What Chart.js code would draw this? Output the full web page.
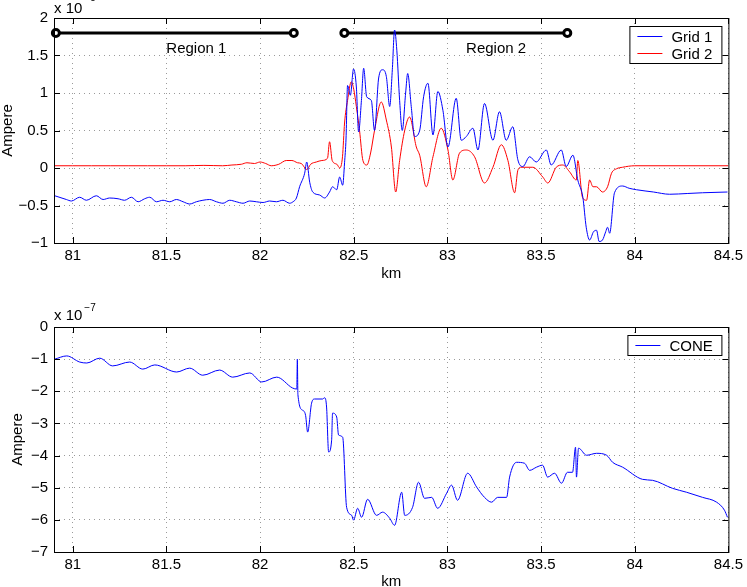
<!DOCTYPE html>
<html>
<head>
<meta charset="utf-8">
<script src="https://cdn.jsdelivr.net/npm/chart.js@4.4.0/dist/chart.umd.min.js"></script>
<style>
html, body { margin: 0; padding: 0; background: #fff; overflow: hidden; }
#wrap { position: relative; width: 747px; height: 587px; overflow: hidden; }
canvas { position: absolute; left: 0; }
#grids { top: 0; }
#cone { top: 293px; }
</style>
</head>
<body>
<div id="wrap">
<canvas id="grids" width="747" height="293"></canvas>
<canvas id="cone" width="747" height="310"></canvas>
</div>
<script>
const xTicks = [81, 81.5, 82, 82.5, 83, 83.5, 84, 84.5];
const gridTicks = [-1, -0.5, 0, 0.5, 1, 1.5, 2];
const coneTicks = [-7, -6, -5, -4, -3, -2, -1, 0];

// Grid 1 (x 10^-5 A)
const grid1Km = [
    80.904, 80.966, 80.993, 81.037, 81.073, 81.126, 81.162, 81.197, 81.242, 81.277,
    81.313, 81.349, 81.384, 81.411, 81.447, 81.482, 81.518, 81.553, 81.589, 81.624,
    81.660, 81.695, 81.731, 81.767, 81.802, 81.838, 81.873, 81.909, 81.945, 81.980,
    82.016, 82.051, 82.087, 82.122, 82.158, 82.176, 82.194, 82.211, 82.238, 82.249,
    82.265, 82.281, 82.318, 82.345, 82.371, 82.387, 82.409, 82.425, 82.441, 82.451,
    82.459, 82.467, 82.482, 82.499, 82.514, 82.526, 82.541, 82.553, 82.569, 82.594,
    82.611, 82.633, 82.654, 82.674, 82.692, 82.706, 82.718, 82.730, 82.745, 82.759,
    82.777, 82.788, 82.807, 82.825, 82.852, 82.873, 82.896, 82.923, 82.949, 82.976,
    83.003, 83.047, 83.074, 83.101, 83.136, 83.163, 83.198, 83.243, 83.278, 83.314,
    83.349, 83.376, 83.403, 83.439, 83.474, 83.528, 83.554, 83.608, 83.634, 83.670,
    83.696, 83.723, 83.741, 83.759, 83.780, 83.796, 83.810, 83.828, 83.845, 83.855,
    83.866, 83.892, 83.935, 83.970, 84.010, 84.100, 84.186, 84.280, 84.362, 84.495
];
const grid1Amp = [
    -0.37, -0.42, -0.44, -0.39, -0.43, -0.37, -0.42, -0.40, -0.41, -0.43,
    -0.39, -0.45, -0.41, -0.39, -0.45, -0.43, -0.45, -0.42, -0.45, -0.48,
    -0.45, -0.43, -0.42, -0.45, -0.47, -0.43, -0.45, -0.47, -0.44, -0.45,
    -0.46, -0.44, -0.45, -0.43, -0.47, -0.45, -0.40, -0.25, -0.07, 0.08,
    -0.19, -0.32, -0.36, -0.40, -0.32, -0.25, -0.29, -0.12, -0.23, 0.07,
    0.40, 1.10, 0.97, 1.32, 1.08, 0.48, 0.90, 1.33, 0.95, 0.90,
    0.50, 1.20, 1.31, 1.22, 0.82, 1.31, 1.84, 1.57, 0.90, 0.50,
    1.00, 1.26, 0.82, 0.42, 0.50, 0.95, 1.13, 0.44, 1.02, 0.77,
    0.28, 0.93, 0.37, 0.42, 0.53, 0.24, 0.86, 0.37, 0.75, 0.37,
    0.55, 0.11, 0.02, 0.15, 0.08, 0.24, 0.04, 0.24, 0.02, 0.17,
    -0.16, -0.39, -0.79, -0.96, -0.85, -0.83, -0.98, -0.96, -0.85, -0.79,
    -0.87, -0.33, -0.24, -0.27, -0.29, -0.32, -0.35, -0.34, -0.33, -0.32
];

// Grid 2 (x 10^-5 A)
const grid2Km = [
    80.90, 81.00, 81.10, 81.20, 81.30, 81.40, 81.50, 81.60, 81.70, 81.80,
    81.85, 81.90, 81.93, 81.97, 82.00, 82.03, 82.06, 82.10, 82.14, 82.17,
    82.20, 82.22, 82.25, 82.27, 82.30, 82.33, 82.36, 82.371, 82.385, 82.41,
    82.425, 82.44, 82.451, 82.467, 82.487, 82.500, 82.514, 82.531, 82.549, 82.570,
    82.590, 82.611, 82.647, 82.674, 82.701, 82.724, 82.745, 82.772, 82.798, 82.834,
    82.852, 82.887, 82.923, 82.967, 83.003, 83.029, 83.065, 83.101, 83.145, 83.198,
    83.243, 83.288, 83.323, 83.359, 83.376, 83.393, 83.456, 83.509, 83.536, 83.581,
    83.616, 83.652, 83.688, 83.696, 83.721, 83.743, 83.759, 83.777, 83.796, 83.828,
    83.855, 83.876, 83.903, 83.935, 84.00, 84.50
];
const grid2Amp = [
    0.03, 0.03, 0.03, 0.03, 0.03, 0.03, 0.03, 0.03, 0.035, 0.03,
    0.04, 0.05, 0.07, 0.06, 0.08, 0.06, 0.03, 0.05, 0.10, 0.10,
    0.07, 0.06, -0.02, 0.05, 0.08, 0.10, 0.13, 0.35, 0.10, 0.05,
    0.00, 0.15, 0.60, 0.90, 1.15, 1.05, 0.82, 0.50, 0.10, 0.04,
    0.20, 0.50, 0.88, 0.64, 0.28, -0.32, 0.10, 0.50, 0.68, 0.28,
    0.17, -0.25, 0.15, 0.53, 0.24, -0.16, 0.20, 0.24, 0.15, -0.20,
    0.01, 0.31, 0.10, -0.33, -0.03, 0.01, 0.01, -0.12, -0.20, 0.01,
    0.04, -0.05, -0.16, 0.10, -0.39, -0.43, -0.16, -0.25, -0.25, -0.32,
    -0.25, -0.07, -0.01, 0.01, 0.03, 0.03
];

// CONE (x 10^-7 A)
const coneKm = [
    80.904, 80.968, 81.037, 81.075, 81.144, 81.213, 81.304, 81.374, 81.438, 81.555,
    81.624, 81.694, 81.784, 81.854, 81.945, 82.009, 82.089, 82.174, 82.196, 82.199,
    82.202, 82.227, 82.243, 82.254, 82.275, 82.291, 82.334, 82.345, 82.355, 82.366,
    82.382, 82.387, 82.409, 82.419, 82.441, 82.462, 82.489, 82.499, 82.521, 82.542,
    82.574, 82.622, 82.654, 82.692, 82.718, 82.756, 82.772, 82.814, 82.846, 82.878,
    82.916, 82.948, 82.996, 83.022, 83.054, 83.108, 83.156, 83.198, 83.236, 83.268,
    83.316, 83.332, 83.369, 83.412, 83.439, 83.476, 83.508, 83.535, 83.572, 83.609,
    83.641, 83.668, 83.684, 83.689, 83.700, 83.743, 83.796, 83.850, 83.882, 83.935,
    84.042, 84.095, 84.202, 84.276, 84.362, 84.437, 84.479, 84.495
];
const coneAmp = [
    -1.00, -0.90, -1.09, -1.12, -0.97, -1.21, -1.09, -1.31, -1.18, -1.40,
    -1.28, -1.50, -1.34, -1.56, -1.43, -1.71, -1.56, -1.90, -1.93, -1.00,
    -2.10, -2.59, -2.75, -3.27, -2.37, -2.24, -2.24, -2.20, -2.49, -3.89,
    -3.52, -2.68, -2.80, -3.36, -3.43, -5.61, -5.86, -6.01, -5.64, -5.92,
    -5.36, -5.86, -5.76, -5.95, -6.17, -5.14, -5.86, -5.61, -4.83, -5.33,
    -5.30, -5.64, -5.17, -4.92, -5.39, -4.55, -4.98, -5.30, -5.45, -5.30,
    -5.30, -4.67, -4.21, -4.24, -4.46, -4.36, -4.30, -4.67, -4.55, -4.86,
    -4.52, -4.52, -3.74, -4.67, -3.77, -3.99, -3.93, -3.99, -4.21, -4.36,
    -4.74, -4.77, -5.02, -5.14, -5.30, -5.45, -5.70, -5.92
];

const regionNames = ['Region 1', 'Region 2'];
const regionStart = [80.91, 82.45];
const regionEnd = [82.18, 83.64];
const regionLevel = 1.8;
const regionLabelKm = [81.66, 83.26];
const regionLabelAmp = 1.53;

const FONT = '"Liberation Sans", Arial, Helvetica, sans-serif';
Chart.defaults.font.family = FONT;
Chart.defaults.font.size = 15;
Chart.defaults.color = '#000';

const pts = (xs, ys) => xs.map((x, i) => ({x: x, y: ys[i]}));
const minus = v => String(v).replace('-', '\u2212');

// box, inward ticks, multiplier, legend, region labels
const matlabFrame = {
    id: 'matlabFrame',
    afterDraw(chart, args, opts) {
        const ctx = chart.ctx;
        const a = chart.chartArea;
        const sx = chart.scales.x, sy = chart.scales.y;
        ctx.save();
        ctx.strokeStyle = '#000';
        ctx.lineWidth = 1;
        ctx.beginPath();
        sx.ticks.forEach(t => {
            const p = Math.round(sx.getPixelForValue(t.value)) + 0.5;
            ctx.moveTo(p, a.bottom); ctx.lineTo(p, a.bottom - 6);
            ctx.moveTo(p, a.top); ctx.lineTo(p, a.top + 6);
        });
        sy.ticks.forEach(t => {
            const p = Math.round(sy.getPixelForValue(t.value)) + 0.5;
            ctx.moveTo(a.left, p); ctx.lineTo(a.left + 6, p);
            ctx.moveTo(a.right, p); ctx.lineTo(a.right - 6, p);
        });
        ctx.stroke();
        ctx.strokeRect(a.left + 0.5, a.top + 0.5, a.right - a.left, a.bottom - a.top);

        // multiplier
        ctx.fillStyle = '#000';
        ctx.textBaseline = 'alphabetic';
        ctx.textAlign = 'left';
        ctx.font = '15px ' + FONT;
        const by = a.top + opts.multY;
        ctx.fillText('x 10', a.left, by);
        const w = ctx.measureText('x 10').width;
        ctx.font = '10px ' + FONT;
        ctx.fillText(opts.exponent, a.left + w + 2, by - opts.expRise);

        // region labels
        if (opts.regions) {
            ctx.font = '15px ' + FONT;
            ctx.textAlign = 'center';
            regionNames.forEach((n, i) => {
                ctx.fillText(n, sx.getPixelForValue(regionLabelKm[i]), sy.getPixelForValue(regionLabelAmp));
            });
        }

        // legend
        const items = chart.data.datasets.filter(d => d.inLegend);
        ctx.font = '15px ' + FONT;
        ctx.textAlign = 'left';
        const tw = Math.max(...items.map(d => ctx.measureText(d.label).width));
        const bw = Math.round(42 + tw + 9);
        const bh = 17 * items.length + 3;
        const bx = a.right - 7 - bw;
        const byy = a.top + 8;
        ctx.fillStyle = '#fff';
        ctx.fillRect(bx, byy, bw, bh);
        ctx.strokeStyle = '#000';
        ctx.strokeRect(bx + 0.5, byy + 0.5, bw, bh);
        items.forEach((d, i) => {
            const cy = byy + 10 + i * 17;
            ctx.strokeStyle = d.borderColor;
            ctx.beginPath();
            ctx.moveTo(bx + 8, cy + 0.5);
            ctx.lineTo(bx + 33, cy + 0.5);
            ctx.stroke();
            ctx.fillStyle = '#000';
            ctx.fillText(d.label, bx + 42, cy + 5.5);
        });
        ctx.restore();
    }
};

function axes(yTicks, yMin, yMax, yTitlePad, xTitlePad, xHeight) {
    return {
        x: {
            type: 'linear',
            min: 80.9,
            max: 84.5,
            afterBuildTicks: s => { s.ticks = xTicks.map(v => ({value: v})); },
            afterFit: s => { s.height = xHeight; },
            ticks: { padding: 4, autoSkip: false, maxRotation: 0, callback: v => String(v) },
            grid: { color: '#9a9a9a', drawTicks: false },
            border: { display: false, dash: [1, 4] },
            title: { display: true, text: 'km', font: { size: 15, lineHeight: 1 }, padding: { top: 0, bottom: xTitlePad } }
        },
        y: {
            min: yMin,
            max: yMax,
            afterBuildTicks: s => { s.ticks = yTicks.map(v => ({value: v})); },
            afterFit: s => { s.width = 54; },
            ticks: { padding: 6, callback: v => minus(v) },
            grid: { color: '#9a9a9a', drawTicks: false },
            border: { display: false, dash: [1, 4] },
            title: { display: true, text: 'Ampere', font: { size: 15, lineHeight: 1 }, padding: { top: yTitlePad, bottom: 0 } }
        }
    };
}

const regionSets = regionNames.map((n, i) => ({
    label: n,
    data: [{x: regionStart[i], y: regionLevel}, {x: regionEnd[i], y: regionLevel}],
    borderColor: '#000',
    borderWidth: 3,
    pointRadius: 3.5,
    pointBorderWidth: 3,
    pointBackgroundColor: '#fff',
    pointBorderColor: '#000',
    clip: false
}));

new Chart(document.getElementById('grids'), {
    type: 'line',
    data: {
        datasets: [
            {
                label: 'Grid 1',
                inLegend: true,
                data: pts(grid1Km, grid1Amp),
                cubicInterpolationMode: 'monotone',
                borderColor: '#0000ff',
                borderWidth: 1,
                pointRadius: 0
            }, {
                label: 'Grid 2',
                inLegend: true,
                data: pts(grid2Km, grid2Amp),
                cubicInterpolationMode: 'monotone',
                borderColor: '#ff0000',
                borderWidth: 1,
                pointRadius: 0
            }
        ].concat(regionSets)
    },
    options: {
        responsive: false,
        animation: false,
        devicePixelRatio: 1,
        layout: { padding: { left: 0, top: 18, right: 18, bottom: 0 } },
        plugins: {
            legend: { display: false },
            tooltip: { enabled: false },
            matlabFrame: { exponent: '\u22125', multY: -5.5, expRise: 12, regions: true }
        },
        scales: axes(gridTicks, -1, 2, 0, 11.5, 50)
    },
    plugins: [matlabFrame]
});

new Chart(document.getElementById('cone'), {
    type: 'line',
    data: {
        datasets: [
            {
                label: 'CONE',
                inLegend: true,
                data: pts(coneKm, coneAmp),
                cubicInterpolationMode: 'monotone',
                borderColor: '#0000ff',
                borderWidth: 1,
                pointRadius: 0
            }
        ]
    },
    options: {
        responsive: false,
        animation: false,
        devicePixelRatio: 1,
        layout: { padding: { left: 0, top: 34, right: 18, bottom: 0 } },
        plugins: {
            legend: { display: false },
            tooltip: { enabled: false },
            matlabFrame: { exponent: '\u22127', multY: -7.5, expRise: 9, regions: false }
        },
        scales: axes(coneTicks, -7, 0, 10, 13.5, 51)
    },
    plugins: [matlabFrame]
});
</script>
</body>
</html>
